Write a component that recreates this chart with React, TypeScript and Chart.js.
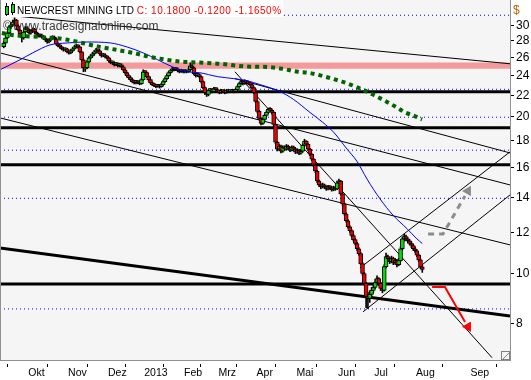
import React, { useEffect, useRef } from 'react';
import { Chart, registerables } from 'chart.js';

Chart.register(...registerables);

// ---- price data (daily bars, index 0 = mid Sep 2012) ----
const opens = [
  27.30,27.74,28.36,28.99,29.78,30.04,30.44,30.71,29.91,29.38,
  28.86,28.36,29.12,29.65,29.38,28.99,29.25,29.51,29.12,28.86,
  28.61,28.74,28.48,28.36,28.11,27.86,28.11,28.36,28.48,28.23,
  27.62,27.38,27.26,27.02,26.90,27.02,26.67,26.55,26.79,27.02,
  27.26,27.38,27.26,26.67,25.75,24.70,24.86,25.52,25.97,26.20,
  26.43,26.67,26.90,26.79,26.43,26.20,26.32,26.09,25.97,25.63,
  25.41,25.41,25.19,25.30,25.08,25.19,24.97,24.64,24.32,24.00,
  23.79,23.58,23.38,23.28,23.38,23.28,23.17,23.58,24.42,24.32,
  23.90,23.58,23.28,23.07,22.97,22.87,22.97,22.87,23.07,23.38,
  23.69,24.00,24.32,24.53,24.75,24.64,24.75,24.53,24.42,24.53,
  24.42,24.53,24.42,24.64,25.08,24.86,24.21,24.00,24.11,23.90,
  23.38,22.77,22.27,22.08,22.47,22.57,22.37,22.67,22.57,22.37,
  22.27,22.47,22.37,22.27,22.47,22.37,22.37,22.47,22.37,22.57,
  22.87,23.17,23.38,23.17,23.38,23.28,23.17,23.07,22.77,22.27,
  21.41,20.49,19.87,19.44,19.78,20.13,20.40,20.67,20.58,20.40,
  19.35,17.88,17.34,17.57,17.18,17.49,17.34,17.57,17.41,17.26,
  17.49,17.34,17.11,17.26,17.03,17.18,17.64,17.96,17.72,17.34,
  16.96,16.59,16.16,15.74,15.06,14.80,14.67,14.80,14.67,14.54,
  14.67,14.61,14.48,14.61,14.54,14.93,15.06,14.23,13.61,13.03,
  12.63,12.30,12.09,11.83,11.62,11.42,11.16,10.92,10.45,10.00,
  9.57,9.04,8.96,9.12,9.28,9.40,9.61,9.78,9.57,9.36,
  9.28,10.31,10.78,10.68,10.54,10.68,10.50,10.59,10.40,10.59,
  11.16,11.66,11.78,11.66,11.56,11.42,11.32,11.16,11.06,10.85,
  10.62,10.30,
];
const highs = [
  27.90,28.50,29.15,29.95,30.35,30.70,31.00,30.80,30.05,29.50,
  28.95,29.25,29.85,29.80,29.50,29.40,29.65,29.60,29.25,28.95,
  28.90,28.85,28.60,28.45,28.20,28.25,28.50,28.65,28.60,28.30,
  27.75,27.50,27.35,27.15,27.15,27.10,26.80,26.95,27.15,27.40,
  27.55,27.50,27.30,26.75,25.85,25.10,25.65,26.10,26.35,26.60,
  26.85,27.10,27.00,26.90,26.55,26.50,26.45,26.20,26.05,25.75,
  25.60,25.50,25.45,25.40,25.35,25.30,25.05,24.75,24.40,24.10,
  23.90,23.70,23.50,23.50,23.45,23.40,23.70,24.64,24.55,24.40,
  24.00,23.65,23.35,23.15,23.05,23.10,23.05,23.20,23.50,23.80,
  24.15,24.45,24.65,24.90,24.85,24.90,24.85,24.60,24.70,24.65,
  24.65,24.60,24.80,25.41,25.20,24.90,24.30,24.25,24.20,23.95,
  23.45,22.85,22.40,22.60,22.70,22.65,22.80,22.75,22.65,22.45,
  22.60,22.55,22.45,22.60,22.55,22.50,22.60,22.55,22.70,23.00,
  23.30,23.55,23.45,23.58,23.50,23.40,23.25,23.15,22.85,22.35,
  21.50,20.60,19.95,19.90,20.25,20.55,20.80,20.85,20.70,20.45,
  19.40,17.95,17.70,17.65,17.60,17.60,17.70,17.65,17.50,17.60,
  17.58,17.40,17.38,17.32,17.30,17.75,18.12,18.00,17.78,17.40,
  17.00,16.65,16.22,15.80,15.12,14.88,14.92,14.86,14.72,14.78,
  14.75,14.68,14.72,14.68,15.05,15.19,15.10,14.28,13.66,13.08,
  12.70,12.36,12.15,11.90,11.68,11.48,11.22,10.98,10.50,10.05,
  9.62,9.20,9.25,9.40,9.52,9.75,9.90,9.82,9.62,9.42,
  10.40,10.95,10.85,10.75,10.80,10.75,10.70,10.65,10.70,11.25,
  11.75,11.90,11.85,11.72,11.62,11.50,11.40,11.25,11.12,10.90,
  10.68,10.40,
];
const lows = [
  27.15,27.60,28.25,28.90,29.60,29.90,30.25,29.80,29.25,28.70,
  27.86,28.20,29.00,29.20,28.85,28.85,29.10,29.00,28.70,28.45,
  28.45,28.35,28.20,27.95,27.70,27.75,28.00,28.25,28.10,27.50,
  27.25,27.10,26.90,26.75,26.80,26.55,26.40,26.45,26.70,26.95,
  27.15,27.10,26.55,25.60,24.42,24.45,24.75,25.40,25.85,26.05,
  26.30,26.55,26.60,26.30,26.05,26.10,25.95,25.85,25.50,25.30,
  25.25,25.05,25.10,24.95,24.95,24.85,24.50,24.20,23.85,23.65,
  23.45,23.25,23.15,23.15,23.15,23.05,23.10,23.50,24.15,23.80,
  23.45,23.15,22.95,22.85,22.75,22.80,22.72,22.80,23.00,23.30,
  23.60,23.90,24.20,24.45,24.50,24.55,24.40,24.30,24.35,24.30,
  24.30,24.30,24.35,24.55,24.75,24.10,23.85,23.90,23.75,23.25,
  22.65,22.10,21.89,21.95,22.35,22.25,22.30,22.45,22.25,22.15,
  22.20,22.25,22.15,22.20,22.25,22.25,22.30,22.25,22.30,22.50,
  22.80,23.10,23.05,23.10,23.15,23.05,22.95,22.65,22.15,21.30,
  20.35,19.75,19.30,19.35,19.70,20.05,20.30,20.45,20.25,19.20,
  17.75,17.20,17.25,17.05,17.10,17.25,17.25,17.30,17.15,17.20,
  17.25,17.00,17.02,16.92,16.95,17.10,17.55,17.60,17.22,16.85,
  16.48,16.05,15.62,14.95,14.70,14.55,14.60,14.58,14.45,14.48,
  14.52,14.40,14.42,14.45,14.50,14.85,14.15,13.52,12.95,12.55,
  12.22,12.00,11.75,11.55,11.35,11.08,10.85,10.38,9.92,9.50,
  8.60,8.57,8.80,9.05,9.20,9.35,9.55,9.50,9.28,9.18,
  9.25,10.25,10.55,10.45,10.48,10.40,10.42,10.30,10.35,10.55,
  11.10,11.55,11.55,11.45,11.35,11.22,11.08,10.98,10.78,10.55,
  10.22,10.05,
];
const closes = [
  27.74,28.36,28.99,29.78,30.04,30.44,30.71,29.91,29.38,28.86,
  28.36,29.12,29.65,29.38,28.99,29.25,29.51,29.12,28.86,28.61,
  28.74,28.48,28.36,28.11,27.86,28.11,28.36,28.48,28.23,27.62,
  27.38,27.26,27.02,26.90,27.02,26.67,26.55,26.79,27.02,27.26,
  27.38,27.26,26.67,25.75,24.86,24.86,25.52,25.97,26.20,26.43,
  26.67,26.90,26.79,26.43,26.20,26.32,26.09,25.97,25.63,25.41,
  25.41,25.19,25.30,25.08,25.19,24.97,24.64,24.32,24.00,23.79,
  23.58,23.38,23.28,23.38,23.28,23.17,23.58,24.42,24.32,23.90,
  23.58,23.28,23.07,22.97,22.87,22.97,22.87,23.07,23.38,23.69,
  24.00,24.32,24.53,24.75,24.64,24.75,24.53,24.42,24.53,24.42,
  24.53,24.42,24.64,25.08,24.86,24.21,24.00,24.11,23.90,23.38,
  22.77,22.27,22.08,22.47,22.57,22.37,22.67,22.57,22.37,22.27,
  22.47,22.37,22.27,22.47,22.37,22.37,22.47,22.37,22.57,22.87,
  23.17,23.38,23.17,23.38,23.28,23.17,23.07,22.77,22.27,21.41,
  20.49,19.87,19.44,19.78,20.13,20.40,20.67,20.58,20.40,19.35,
  17.88,17.34,17.57,17.18,17.49,17.34,17.57,17.41,17.26,17.49,
  17.34,17.11,17.26,17.03,17.18,17.64,17.96,17.72,17.34,16.96,
  16.59,16.16,15.74,15.06,14.80,14.67,14.80,14.67,14.54,14.67,
  14.61,14.48,14.61,14.54,14.93,15.06,14.23,13.61,13.03,12.63,
  12.30,12.09,11.83,11.62,11.42,11.16,10.92,10.45,10.00,9.57,
  9.04,8.96,9.12,9.28,9.40,9.61,9.78,9.57,9.36,9.28,
  10.31,10.78,10.68,10.54,10.68,10.50,10.59,10.40,10.59,11.16,
  11.66,11.78,11.66,11.56,11.42,11.32,11.16,11.06,10.85,10.62,
  10.30,10.18,
];

// ---- axis ----
const monthLabels = ['Okt', 'Nov', 'Dez', '2013', 'Feb', 'Mrz', 'Apr', 'Mai', 'Jun', 'Jul', 'Aug', 'Sep'];
const monthStarts = [13, 35, 57, 77, 99, 118, 139, 161, 184, 204, 227, 257];
const yTicks = [8, 10, 12, 14, 16, 18, 20, 22, 24, 26, 28, 30];
const X_MIN = -2.04;
const X_MAX = 279.4;
const Y_MIN = 6.82;
const Y_MAX = 33.55;

// ---- moving averages ----
const blueX = [-2, 9, 16, 25.5, 35, 46, 59, 68, 77, 85, 93, 101, 108, 118, 127, 134, 141.5, 152.5, 160, 169, 176, 182, 189.5, 195, 200.5, 207.7, 214.8, 222.6, 228, 231];
const blueY = [24.64, 25.75, 26.55, 27.5, 27.74, 27.86, 27.74, 27.26, 26.55, 25.75, 24.97, 24.42, 24.32, 23.9, 23.69, 23.48, 23.07, 22.37, 21.6, 20.4, 19.53, 18.7, 17.34, 16.42, 15.19, 13.91, 12.95, 12.19, 11.66, 11.42];
const greenX = [-1, 4.6, 20, 32.7, 53, 62.5, 71.4, 80.7, 90, 99, 110, 119.4, 128.8, 137.6, 143, 153.6, 162.4, 168, 177.3, 186.7, 195.5, 203.8, 212, 217, 221.5, 225.9, 230.9];
const greenY = [28.99, 28.74, 28.48, 28.23, 27.26, 26.9, 26.55, 26.09, 25.75, 25.52, 25.41, 25.3, 25.08, 24.97, 24.97, 24.75, 24.42, 24.32, 23.9, 23.38, 22.77, 22.08, 21.32, 20.85, 20.4, 20.13, 19.78];

// ---- drawing objects ----
const thickLevels = [22.36, 19.07, 16.19, 9.55];
const dottedLevels = [31.36, 22.6, 19.97, 17.26, 13.95, 8.55];
const bandTop = 25.45;
const bandBottom = 24.75;
// [x1, price1, x2, price2]
const thinLines = [
  [6.2, 31.26, 279.4, 25.3],
  [-2.04, 26.55, 279.4, 14.8],
  [-2.04, 19.91, 279.4, 11.35],
  [127.6, 24.42, 269.5, 6.89],
  [127.6, 23.69, 279.4, 17.05],
  [196.6, 10.25, 279.4, 17.13],
  [198.3, 8.44, 279.4, 14.16],
];
const thickTrend = [-2.04, 11.2, 279.4, 8.29];
const grayArrowX = [234.2, 242.4, 254.6];
const grayArrowY = [11.91, 11.91, 14.1];
const grayHead = [256.2, 14.41, 30];
const redArrowX = [236.4, 243.5, 254.6];
const redArrowY = [9.42, 9.42, 8.07];
const redHead = [256.2, 7.9, 150];

const TITLE = 'NEWCREST MINING LTD';
const QUOTE = 'C: 10.1800 -0.1200 -1.1650%';
const WATERMARK = 'www.tradesignalonline.com';

const GREEN = '#00e000';
const RED = '#ee0000';
const FONT = '"Liberation Sans", Arial, sans-serif';

function seg(x1: number, y1: number, x2: number, y2: number, color: string, width: number, order: number, dash: number[] = []) {
  return {
    type: 'line',
    data: [{ x: x1, y: y1 }, { x: x2, y: y2 }],
    borderColor: color,
    borderWidth: width,
    borderDash: dash,
    pointRadius: 0,
    fill: false,
    order,
  };
}

const decoPlugin = {
  id: 'deco',
  beforeDraw(chart: any) {
    const { ctx, chartArea: a, width, height } = chart;
    ctx.save();
    ctx.fillStyle = '#ffffff';
    ctx.fillRect(0, 0, width, height);
    ctx.fillStyle = '#f5f5f5';
    ctx.fillRect(a.left, a.top, a.right - a.left, a.bottom - a.top);
    ctx.restore();
  },
  afterDraw(chart: any) {
    const { ctx, chartArea: a } = chart;
    ctx.save();
    ctx.strokeStyle = '#909090';
    ctx.lineWidth = 1;
    ctx.beginPath();
    ctx.moveTo(a.left + 0.5, a.top);
    ctx.lineTo(a.left + 0.5, a.bottom);
    ctx.stroke();
    // title strip
    ctx.fillStyle = '#ffffff';
    ctx.fillRect(a.left + 1, 0, 282, 17);
    // icon
    const icon = [[5, 3, 16, 6, 8], [11, 2, 15, 4, 8]];
    icon.forEach(([x, t, b, bt, bh]) => {
      ctx.strokeStyle = '#000';
      ctx.beginPath();
      ctx.moveTo(x + 1.5, t);
      ctx.lineTo(x + 1.5, b);
      ctx.stroke();
      ctx.fillStyle = GREEN;
      ctx.fillRect(x, bt, 3, bh);
      ctx.strokeRect(x + 0.5, bt + 0.5, 3, bh);
    });
    ctx.font = '10px ' + FONT;
    ctx.textBaseline = 'alphabetic';
    ctx.fillStyle = '#000';
    ctx.fillText(TITLE, 17, 13.5);
    const w = ctx.measureText(TITLE + ' ').width;
    ctx.fillStyle = '#ff0000';
    (ctx as any).letterSpacing = '0.5px';
    ctx.fillText(QUOTE, 17 + w, 13.5);
    (ctx as any).letterSpacing = '0px';
    // watermark
    ctx.font = '12px ' + FONT;
    ctx.fillStyle = 'rgba(40,40,40,0.9)';
    ctx.fillText('©', 3, 30);
    ctx.fillText(WATERMARK, 13, 30);
    // currency
    ctx.fillStyle = '#c06000';
    ctx.fillText('$', 513, 14);
    // resize glyph
    ctx.strokeStyle = '#808080';
    ctx.strokeRect(501.5, 351.5, 8, 8);
    ctx.beginPath();
    ctx.moveTo(503, 359);
    ctx.lineTo(509, 353);
    ctx.stroke();
    ctx.restore();
  },
};

function zeroPad(s: any) {
  s.paddingTop = 0;
  s.paddingBottom = 0;
  s.paddingLeft = 0;
  s.paddingRight = 0;
}

export default function App() {
  const ref = useRef<HTMLCanvasElement>(null);
  useEffect(() => {
    const bodies = closes.map((c, i) => ({ x: i, y: [opens[i], c] }));
    const wicks = closes.map((c, i) => ({ x: i, y: [lows[i], highs[i]] }));
    const bodyColors = closes.map((c, i) => (c >= opens[i] ? GREEN : RED));

    const datasets: any[] = [];
    datasets.push({
      type: 'line',
      data: [{ x: X_MIN, y: bandTop }, { x: X_MAX, y: bandTop }],
      borderWidth: 0,
      borderColor: 'rgba(0,0,0,0)',
      backgroundColor: '#f59a9a',
      fill: { value: bandBottom },
      pointRadius: 0,
      order: 100,
    });
    dottedLevels.forEach((v) => datasets.push(seg(X_MIN, v, X_MAX, v, '#0000ff', 1, 90, [1, 3])));
    thickLevels.forEach((v) => datasets.push(seg(X_MIN, v, X_MAX, v, '#000000', 3, 80)));
    datasets.push(seg(thickTrend[0], thickTrend[1], thickTrend[2], thickTrend[3], '#000000', 3, 80));
    thinLines.forEach((l) => datasets.push(seg(l[0], l[1], l[2], l[3], '#000000', 1, 70)));
    datasets.push({
      type: 'bar',
      data: wicks,
      backgroundColor: '#000000',
      borderWidth: 0,
      barThickness: 1,
      grouped: false,
      order: 60,
    });
    datasets.push({
      type: 'bar',
      data: bodies,
      backgroundColor: bodyColors,
      borderColor: '#000000',
      borderWidth: 1,
      borderSkipped: false,
      barThickness: 4,
      minBarLength: 2,
      grouped: false,
      order: 50,
    });
    datasets.push({
      type: 'line',
      data: blueX.map((x, i) => ({ x, y: blueY[i] })),
      borderColor: '#0000ff',
      borderWidth: 1,
      cubicInterpolationMode: 'monotone',
      pointRadius: 0,
      fill: false,
      order: 40,
    });
    datasets.push({
      type: 'line',
      data: greenX.map((x, i) => ({ x, y: greenY[i] })),
      borderColor: '#006400',
      borderWidth: 4,
      borderDash: [4, 4],
      borderCapStyle: 'butt',
      cubicInterpolationMode: 'monotone',
      pointRadius: 0,
      fill: false,
      order: 30,
    });
    datasets.push({
      type: 'line',
      data: grayArrowX.map((x, i) => ({ x, y: grayArrowY[i] })),
      borderColor: '#8c8c8c',
      borderWidth: 3,
      borderDash: [6, 5],
      pointRadius: 0,
      fill: false,
      order: 20,
    });
    datasets.push({
      type: 'line',
      data: redArrowX.map((x, i) => ({ x, y: redArrowY[i] })),
      borderColor: '#ff0000',
      borderWidth: 2,
      pointRadius: 0,
      fill: false,
      order: 20,
    });
    [[grayHead, '#8c8c8c'], [redHead, '#ff0000']].forEach(([h, col]: any) => {
      datasets.push({
        type: 'line',
        data: [{ x: h[0], y: h[1] }],
        showLine: false,
        pointStyle: 'triangle',
        pointRadius: 6,
        pointRotation: h[2],
        pointBackgroundColor: col,
        pointBorderColor: col,
        pointBorderWidth: 0,
        order: 10,
      });
    });

    const chart = new Chart(ref.current as HTMLCanvasElement, {
      type: 'line',
      data: { datasets },
      options: {
        responsive: false,
        animation: false,
        devicePixelRatio: 1,
        events: [],
        layout: { padding: 0, autoPadding: false },
        plugins: { legend: { display: false }, tooltip: { enabled: false } },
        scales: {
          x: {
            type: 'linear',
            min: X_MIN,
            max: X_MAX,
            offset: false,
            afterBuildTicks: (s: any) => {
              s.ticks = monthStarts.map((v) => ({ value: v }));
            },
            afterFit: (s: any) => {
              s.height = 20;
              zeroPad(s);
            },
            ticks: {
              autoSkip: false,
              maxRotation: 0,
              minRotation: 0,
              align: 'start',
              labelOffset: 1,
              padding: 0,
              color: '#000',
              font: { family: FONT, size: 10.5 },
              callback: (v: any) => monthLabels[monthStarts.indexOf(v)] ?? '',
            },
            grid: {
              drawOnChartArea: false,
              drawTicks: true,
              tickLength: 7,
              tickColor: '#000',
              tickBorderDash: [0, 3, 4, 20],
            },
            border: { display: true, color: '#909090' },
          },
          y: {
            type: 'logarithmic',
            position: 'right',
            min: Y_MIN,
            max: Y_MAX,
            afterBuildTicks: (s: any) => {
              s.ticks = yTicks.map((v) => ({ value: v }));
            },
            afterFit: (s: any) => {
              s.width = 21;
              zeroPad(s);
            },
            ticks: {
              autoSkip: false,
              padding: 2,
              color: '#000',
              font: { family: FONT, size: 12 },
              callback: (v: any) => String(v),
            },
            grid: {
              drawOnChartArea: false,
              drawTicks: true,
              tickLength: 4,
              tickColor: '#000',
            },
            border: { display: true, color: '#909090' },
          },
        },
      } as any,
      plugins: [decoPlugin],
    } as any);
    return () => chart.destroy();
  }, []);

  return (
    <div style={{ position: 'absolute', left: 0, top: 0, width: 531, height: 380 }}>
      <canvas ref={ref} width={531} height={380} style={{ display: 'block' }} />
    </div>
  );
}
